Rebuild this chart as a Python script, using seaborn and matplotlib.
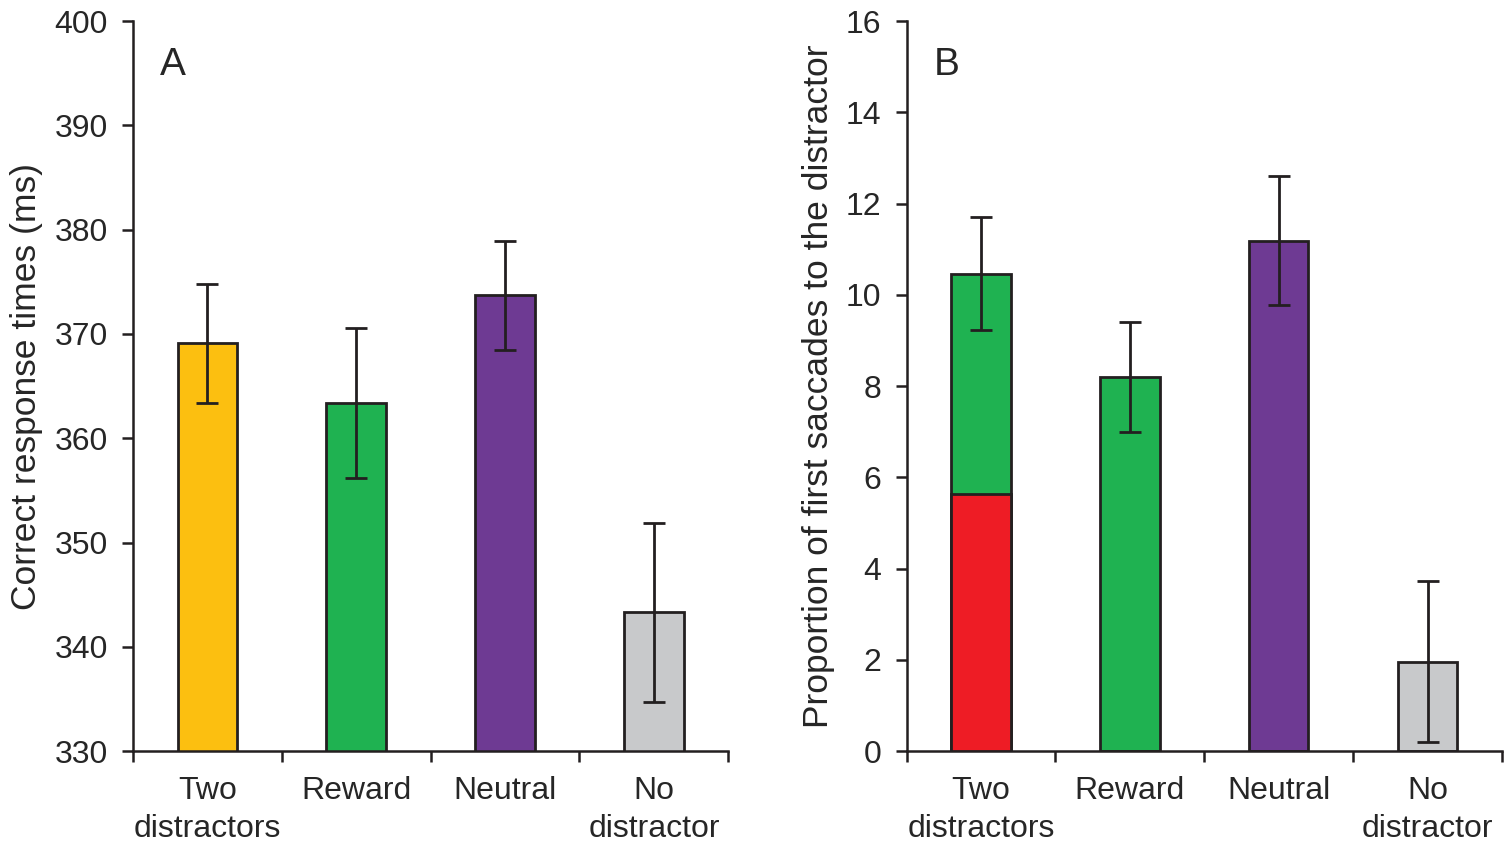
import numpy as np
import pandas as pd
import matplotlib
matplotlib.use('Agg')
import matplotlib.pyplot as plt
import seaborn as sns

# Data
categories = ['Two\ndistractors', 'Reward', 'Neutral', 'No\ndistractor']
rt_mean = [369.1, 363.4, 373.7, 343.3]
rt_err = [5.7, 7.2, 5.2, 8.6]
sacc_mean = [10.46, 8.20, 11.19, 1.96]
sacc_err = [1.24, 1.2, 1.41, 1.77]
sacc_two_red = [5.64]   # red share of the "Two distractors" bar

colors_a = ['#FCBF10', '#1FB251', '#6E3A93', '#C8C9CB']
colors_b = ['#1FB251', '#1FB251', '#6E3A93', '#C8C9CB']
red = '#EE1C25'

sns.set_style('ticks')
plt.rcParams['font.family'] = ['Liberation Sans', 'DejaVu Sans']
plt.rcParams['font.size'] = 23

fig = plt.figure(figsize=(15.11, 8.43), dpi=100)
ax_a = fig.add_axes([0.088, 0.109, 0.394, 0.866])
ax_b = fig.add_axes([0.600, 0.109, 0.394, 0.866])

def draw_panel(ax, means, errs, colors, ylim, yticks, ylabel, letter):
    df = pd.DataFrame({'cat': categories, 'val': means})
    sns.barplot(data=df, x='cat', y='val', hue='cat', palette=colors, order=categories,
                hue_order=categories, width=0.4, edgecolor='#231F20', linewidth=2,
                saturation=1, errorbar=None, legend=False, ax=ax)
    ax.errorbar(np.arange(len(categories)), means, yerr=errs, fmt='none',
                ecolor='#231F20', elinewidth=2, capsize=8, capthick=2, zorder=5)
    ax.set_ylim(*ylim)
    ax.set_yticks(yticks)
    ax.set_xlim(-0.5, len(categories) - 0.5)
    ax.set_xticks(np.arange(len(categories)))
    ax.set_xticklabels(categories, linespacing=1.35)
    ax.set_xticks(np.arange(len(categories) + 1) - 0.5, minor=True)
    ax.tick_params(axis='x', which='major', length=0, pad=18, labelsize=23)
    ax.tick_params(axis='x', which='minor', length=8, width=1.8, direction='out', color='#231F20')
    ax.tick_params(axis='y', length=8, width=1.8, direction='out', color='#231F20',
                   labelsize=23, pad=10)
    ax.set_xlabel('')
    ax.set_ylabel(ylabel, fontsize=25.5, labelpad=8)
    for s in ['top', 'right']:
        ax.spines[s].set_visible(False)
    for s in ['left', 'bottom']:
        ax.spines[s].set_linewidth(1.8)
        ax.spines[s].set_color('#231F20')
    ax.text(0.045, 0.94, letter, transform=ax.transAxes, fontsize=28, va='center', ha='left')

draw_panel(ax_a, rt_mean, rt_err, colors_a, (330, 400), np.arange(330, 401, 10),
           'Correct response times (ms)', 'A')

# Panel B: red part sits under the green part of the first bar
df_red = pd.DataFrame({'cat': categories[:1], 'val': sacc_two_red})
draw_panel(ax_b, sacc_mean, sacc_err, colors_b, (0, 16), np.arange(0, 17, 2),
           'Proportion of first saccades to the distractor', 'B')
sns.barplot(data=df_red, x='cat', y='val', order=categories, color=red, width=0.4,
            saturation=1, edgecolor='#231F20', linewidth=2, errorbar=None, ax=ax_b, zorder=3)
ax_b.set_xlabel('')
ax_b.set_ylabel('Proportion of first saccades to the distractor', fontsize=25.5, labelpad=8)

fig.savefig('out.png', dpi=100)
